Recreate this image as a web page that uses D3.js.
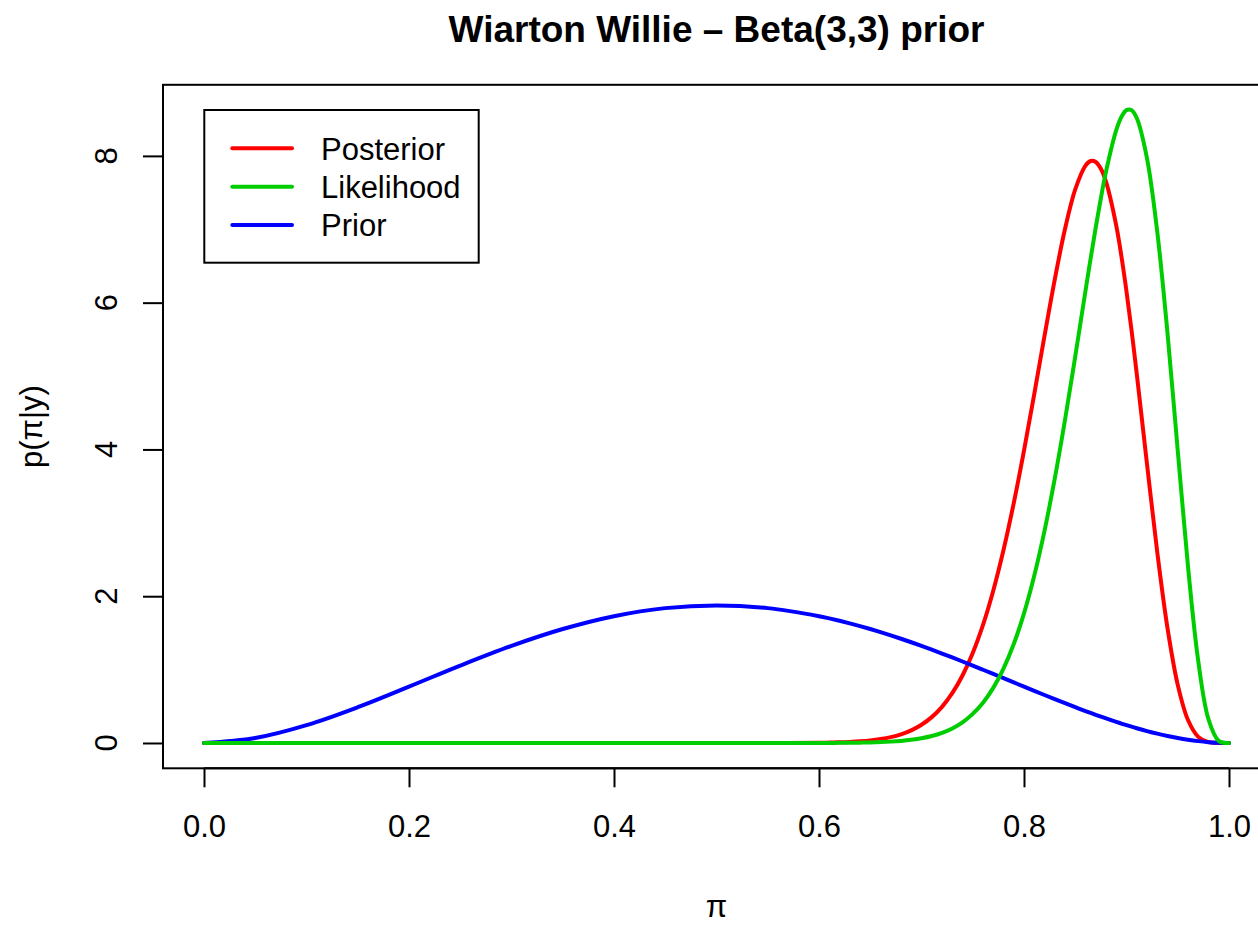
<!DOCTYPE html>
<html>
<head>
<meta charset="utf-8">
<script src="https://cdn.jsdelivr.net/npm/d3@7"></script>
<style>
  html, body { margin: 0; padding: 0; background: #fff; }
  svg { display: block; }
  text { font-family: "Liberation Sans", Arial, Helvetica, sans-serif; fill: #000; }
</style>
</head>
<body>
<svg id="chart" width="1258" height="926"></svg>
<script>
// Grid of π values
const piValues = [0, 0.05, 0.10, 0.15, 0.20, 0.25, 0.30, 0.35, 0.40, 0.45, 0.50, 0.55, 0.60,
  0.61, 0.62, 0.63, 0.64, 0.65, 0.66, 0.67, 0.68, 0.69, 0.70,
  0.71, 0.72, 0.73, 0.74, 0.75, 0.76, 0.77, 0.78, 0.79, 0.80,
  0.81, 0.82, 0.83, 0.84, 0.85, 0.86, 0.865, 0.87, 0.875, 0.88, 0.89, 0.895, 0.90, 0.905,
  0.91, 0.92, 0.93, 0.94, 0.95, 0.96, 0.97, 0.98, 0.99, 1.00];

// Posterior density
const posterior = [0, 0, 0, 0, 0, 0, 0, 0, 0, 0, 0, 0.00023, 0.00342,
  0.0056, 0.0090, 0.0144, 0.0225, 0.0348, 0.0531, 0.0797, 0.1181, 0.1726, 0.2484,
  0.3525, 0.4927, 0.6783, 0.9195, 1.2266, 1.6093, 2.0756, 2.6295, 3.2691, 3.9841,
  4.7543, 5.5466, 6.3152, 7.0028, 7.5428, 7.8678, 7.9301, 7.9170, 7.8240, 7.6484, 7.0503, 6.6356, 6.1532, 5.6142,
  5.0316, 3.8011, 2.6006, 1.5651, 0.7920, 0.3123, 0.0833, 0.0109, 0.0003, 0];

// Likelihood (normalised)
const likelihood = [0, 0, 0, 0, 0, 0, 0, 0, 0, 0, 0, 0.00004, 0.00067,
  0.00112, 0.00185, 0.00300, 0.00482, 0.00763, 0.01196, 0.01852, 0.02832, 0.04281, 0.06395,
  0.0944, 0.1376, 0.1982, 0.2820, 0.3961, 0.5491, 0.7513, 1.0137, 1.3484, 1.7668,
  2.2787, 2.8902, 3.6009, 4.4010, 5.2674, 6.1615, 6.6018, 7.0263, 7.4246, 7.7861, 8.3508, 8.5298, 8.6238, 8.6225,
  8.5159, 7.9659, 6.9661, 5.5857, 3.9846, 2.4044, 1.1163, 0.3223, 0.0293, 0];

// Prior density
const prior = [0, 0.0677, 0.243, 0.4877, 0.768, 1.0547, 1.323, 1.5527, 1.728, 1.8377, 1.875, 1.8377, 1.728,
  1.6979, 1.6652, 1.6301, 1.5925, 1.5527, 1.5107, 1.4666, 1.4205, 1.3726, 1.323,
  1.2719, 1.2193, 1.1654, 1.1105, 1.0547, 0.9981, 0.9409, 0.8834, 0.8257, 0.768,
  0.7106, 0.6536, 0.5973, 0.5419, 0.4877, 0.4349, 0.4091, 0.3838, 0.3589, 0.3345, 0.2875, 0.2649, 0.243, 0.2218,
  0.2012, 0.1625, 0.1271, 0.0954, 0.0677, 0.0442, 0.0254, 0.0115, 0.0029, 0];

const xTicks = [0, 0.2, 0.4, 0.6, 0.8, 1.0];
const yTicks = [0, 2, 4, 6, 8];

const seriesNames = ["Posterior", "Likelihood", "Prior"];
const seriesColors = ["#ff0000", "#00cd00", "#0000ff"];

const svg = d3.select("#chart");
const region = { left: 163, right: 1270, top: 84.8, bottom: 768.3 };
const baseFont = 31;

// 4% padding on both axes
const xExt = d3.extent(piValues);
const xPad = (xExt[1] - xExt[0]) * 0.04;
const x = d3.scaleLinear().domain([xExt[0] - xPad, xExt[1] + xPad]).range([region.left, region.right]);

const yMax = d3.max([d3.max(posterior), d3.max(likelihood), d3.max(prior)]);
const yPad = yMax * 0.04;
const y = d3.scaleLinear().domain([0 - yPad, yMax + yPad]).range([region.bottom, region.top]);

// Curves (drawn in order: posterior, prior, likelihood)
const lineGen = vals => d3.line()
  .x((d, i) => x(piValues[i]))
  .y(d => y(d))
  .curve(d3.curveCatmullRom.alpha(0.5))(vals);

const drawOrder = [
  { vals: posterior, color: seriesColors[0] },
  { vals: prior, color: seriesColors[2] },
  { vals: likelihood, color: seriesColors[1] }
];
const curves = svg.append("g");
drawOrder.forEach(s => {
  curves.append("path")
    .attr("d", lineGen(s.vals))
    .attr("fill", "none")
    .attr("stroke", s.color)
    .attr("stroke-width", 4)
    .attr("stroke-linecap", "round")
    .attr("stroke-linejoin", "round");
});

// Plot box
svg.append("rect")
  .attr("x", region.left).attr("y", region.top)
  .attr("width", region.right - region.left)
  .attr("height", region.bottom - region.top)
  .attr("fill", "none").attr("stroke", "#000").attr("stroke-width", 2);

// X axis
const xAxis = svg.append("g")
  .attr("transform", `translate(0,${region.bottom})`)
  .call(d3.axisBottom(x).tickValues(xTicks).tickFormat(d3.format(".1f"))
    .tickSize(19).tickSizeOuter(0).tickPadding(28));
xAxis.select(".domain").remove();
xAxis.append("line")
  .attr("x1", x(xTicks[0])).attr("x2", x(xTicks[xTicks.length - 1]))
  .attr("stroke", "#000").attr("stroke-width", 2);
xAxis.selectAll(".tick line").attr("stroke", "#000").attr("stroke-width", 2);
xAxis.selectAll(".tick text")
  .attr("font-size", baseFont)
  .attr("font-family", "Liberation Sans, Arial, sans-serif")
  .attr("fill", "#000");

// Y axis
const yAxis = svg.append("g")
  .attr("transform", `translate(${region.left},0)`)
  .call(d3.axisLeft(y).tickValues(yTicks).tickFormat("").tickSize(20).tickSizeOuter(0));
yAxis.select(".domain").remove();
yAxis.append("line")
  .attr("y1", y(yTicks[0])).attr("y2", y(yTicks[yTicks.length - 1]))
  .attr("stroke", "#000").attr("stroke-width", 2);
yAxis.selectAll(".tick line").attr("stroke", "#000").attr("stroke-width", 2);
svg.append("g").selectAll("text")
  .data(yTicks)
  .join("text")
  .attr("transform", d => `translate(117,${y(d)}) rotate(-90)`)
  .attr("text-anchor", "middle")
  .attr("font-size", baseFont)
  .text(d => d);

// Titles
svg.append("text")
  .attr("x", (region.left + region.right) / 2).attr("y", 42)
  .attr("text-anchor", "middle")
  .attr("font-size", 37).attr("font-weight", "bold")
  .text("Wiarton Willie \u2013 Beta(3,3) prior");

svg.append("text")
  .attr("x", (region.left + region.right) / 2).attr("y", 917)
  .attr("text-anchor", "middle")
  .attr("font-size", baseFont)
  .text("\u03c0");

svg.append("text")
  .attr("transform", `translate(41.5,${(region.top + region.bottom) / 2}) rotate(-90)`)
  .attr("text-anchor", "middle")
  .attr("font-size", baseFont)
  .text("p(\u03c0|y)");

// Legend
const legend = svg.append("g");
legend.append("rect")
  .attr("x", 204.3).attr("y", 110)
  .attr("width", 274.4).attr("height", 152.7)
  .attr("fill", "#fff").attr("stroke", "#000").attr("stroke-width", 2);
const legendRowY = [148.3, 186.7, 225];
seriesNames.forEach((name, i) => {
  legend.append("line")
    .attr("x1", 232.3).attr("x2", 292)
    .attr("y1", legendRowY[i]).attr("y2", legendRowY[i])
    .attr("stroke", seriesColors[i]).attr("stroke-width", 4)
    .attr("stroke-linecap", "round");
  legend.append("text")
    .attr("x", 321).attr("y", legendRowY[i] + 11.2)
    .attr("font-size", baseFont)
    .text(name);
});
</script>
</body>
</html>
